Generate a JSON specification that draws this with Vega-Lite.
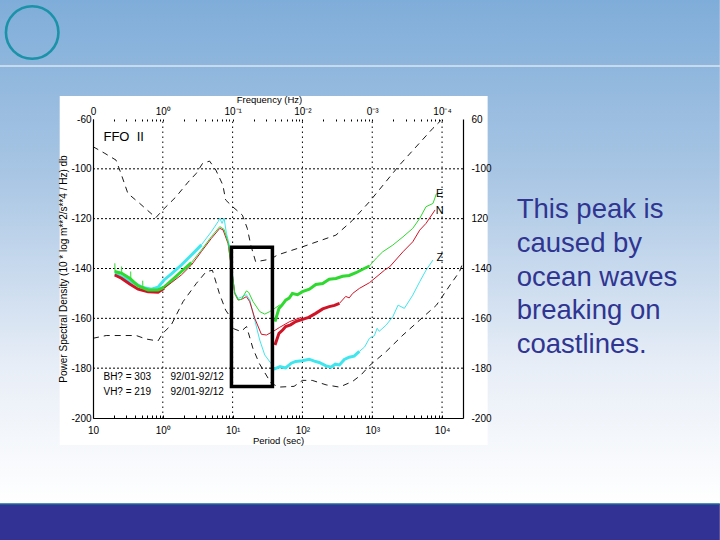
{
"$schema":"https://vega.github.io/schema/vega-lite/v6.json",
"width":370,"height":299,
"autosize":{"type":"none"},
"padding":{"left":93,"top":119,"right":257,"bottom":122},
"background":"#ffffff",
"config":{"view":{"stroke":null},"font":"Liberation Sans"},
"datasets":{
"curves":[
{"curve":"Z","part":"lf","u":-0.689,"db":-142},{"curve":"Z","part":"lf","u":-0.474,"db":-145},{"curve":"Z","part":"lf","u":-0.3,"db":-147.5},{"curve":"Z","part":"lf","u":-0.163,"db":-148.3},{"curve":"Z","part":"lf","u":-0.068,"db":-147.5},{"curve":"Z","part":"lf","u":0.018,"db":-144.6},{"curve":"Z","part":"lf","u":0.123,"db":-142.2},{"curve":"Z","part":"lf","u":0.266,"db":-138.6},{"curve":"Z","part":"lf","u":0.41,"db":-134.6},{"curve":"Z","part":"lf","u":0.553,"db":-130.5},
{"curve":"Z","part":"md","u":0.553,"db":-130.5},{"curve":"Z","part":"md","u":0.696,"db":-125.2},{"curve":"Z","part":"md","u":0.792,"db":-121.2},{"curve":"Z","part":"md","u":0.816,"db":-119.8},{"curve":"Z","part":"md","u":0.849,"db":-121.9},{"curve":"Z","part":"md","u":0.878,"db":-119.8},{"curve":"Z","part":"md","u":0.911,"db":-125.9},{"curve":"Z","part":"md","u":0.959,"db":-131.2},{"curve":"Z","part":"md","u":1.006,"db":-144},{"curve":"Z","part":"md","u":1.03,"db":-149.5},{"curve":"Z","part":"md","u":1.078,"db":-152},{"curve":"Z","part":"md","u":1.126,"db":-151.5},{"curve":"Z","part":"md","u":1.197,"db":-150.5},{"curve":"Z","part":"md","u":1.245,"db":-152.6},{"curve":"Z","part":"md","u":1.317,"db":-160.7},{"curve":"Z","part":"md","u":1.388,"db":-168.7},{"curve":"Z","part":"md","u":1.46,"db":-174.7},{"curve":"Z","part":"md","u":1.556,"db":-178.3},
{"curve":"Z","part":"rt","u":1.59,"db":-180.4},{"curve":"Z","part":"rt","u":1.68,"db":-179.4},{"curve":"Z","part":"rt","u":1.76,"db":-179.9},{"curve":"Z","part":"rt","u":1.84,"db":-178},{"curve":"Z","part":"rt","u":1.904,"db":-177.3},{"curve":"Z","part":"rt","u":2,"db":-177},{"curve":"Z","part":"rt","u":2.096,"db":-176.4},{"curve":"Z","part":"rt","u":2.17,"db":-177.2},{"curve":"Z","part":"rt","u":2.24,"db":-177.7},{"curve":"Z","part":"rt","u":2.33,"db":-179},{"curve":"Z","part":"rt","u":2.41,"db":-179.6},{"curve":"Z","part":"rt","u":2.47,"db":-178.4},{"curve":"Z","part":"rt","u":2.53,"db":-178.7},{"curve":"Z","part":"rt","u":2.6,"db":-176.5},{"curve":"Z","part":"rt","u":2.67,"db":-175.6},{"curve":"Z","part":"rt","u":2.74,"db":-175.2},{"curve":"Z","part":"rt","u":2.815,"db":-173.3},
{"curve":"Z","part":"hi","u":2.815,"db":-173.3},{"curve":"Z","part":"hi","u":2.89,"db":-171.5},{"curve":"Z","part":"hi","u":2.96,"db":-168},{"curve":"Z","part":"hi","u":3.03,"db":-167},{"curve":"Z","part":"hi","u":3.07,"db":-164},{"curve":"Z","part":"hi","u":3.1,"db":-165.2},{"curve":"Z","part":"hi","u":3.2,"db":-162.7},{"curve":"Z","part":"hi","u":3.295,"db":-159.3},{"curve":"Z","part":"hi","u":3.37,"db":-154.7},{"curve":"Z","part":"hi","u":3.46,"db":-156},{"curve":"Z","part":"hi","u":3.58,"db":-150.7},{"curve":"Z","part":"hi","u":3.68,"db":-145.3},{"curve":"Z","part":"hi","u":3.77,"db":-140.7},{"curve":"Z","part":"hi","u":3.87,"db":-136.6},
{"curve":"N","part":"lf","u":-0.689,"db":-142.6},{"curve":"N","part":"lf","u":-0.593,"db":-143.9},{"curve":"N","part":"lf","u":-0.474,"db":-146.2},{"curve":"N","part":"lf","u":-0.354,"db":-148.3},{"curve":"N","part":"lf","u":-0.21,"db":-149.3},{"curve":"N","part":"lf","u":-0.068,"db":-149.5},{"curve":"N","part":"lf","u":0.018,"db":-147.9},
{"curve":"N","part":"md","u":0.018,"db":-147.9},{"curve":"N","part":"md","u":0.123,"db":-145.7},{"curve":"N","part":"md","u":0.266,"db":-142.6},{"curve":"N","part":"md","u":0.41,"db":-138.6},{"curve":"N","part":"md","u":0.553,"db":-133.2},{"curve":"N","part":"md","u":0.696,"db":-127.9},{"curve":"N","part":"md","u":0.816,"db":-123.9},{"curve":"N","part":"md","u":0.863,"db":-124.5},{"curve":"N","part":"md","u":0.935,"db":-130},{"curve":"N","part":"md","u":0.95,"db":-133},{"curve":"N","part":"md","u":1.006,"db":-144.6},{"curve":"N","part":"md","u":1.03,"db":-150},{"curve":"N","part":"md","u":1.078,"db":-152.6},{"curve":"N","part":"md","u":1.126,"db":-152.4},{"curve":"N","part":"md","u":1.197,"db":-151.3},{"curve":"N","part":"md","u":1.245,"db":-153.3},{"curve":"N","part":"md","u":1.317,"db":-160},{"curve":"N","part":"md","u":1.412,"db":-166.4},{"curve":"N","part":"md","u":1.484,"db":-166.7},{"curve":"N","part":"md","u":1.579,"db":-165.3},{"curve":"N","part":"md","u":1.675,"db":-163.6},{"curve":"N","part":"md","u":1.818,"db":-161.3},{"curve":"N","part":"md","u":1.985,"db":-159.6},
{"curve":"N","part":"rt","u":1.607,"db":-170.7},{"curve":"N","part":"rt","u":1.664,"db":-166},{"curve":"N","part":"rt","u":1.72,"db":-164.6},{"curve":"N","part":"rt","u":1.76,"db":-163.3},{"curve":"N","part":"rt","u":1.83,"db":-162.6},{"curve":"N","part":"rt","u":1.904,"db":-161.3},{"curve":"N","part":"rt","u":2,"db":-160.4},{"curve":"N","part":"rt","u":2.09,"db":-159.6},{"curve":"N","part":"rt","u":2.19,"db":-158},{"curve":"N","part":"rt","u":2.29,"db":-156.2},{"curve":"N","part":"rt","u":2.384,"db":-155.3},{"curve":"N","part":"rt","u":2.46,"db":-154.8},{"curve":"N","part":"rt","u":2.53,"db":-154},
{"curve":"N","part":"hi","u":2.53,"db":-154},{"curve":"N","part":"hi","u":2.62,"db":-151.2},{"curve":"N","part":"hi","u":2.67,"db":-151.8},{"curve":"N","part":"hi","u":2.72,"db":-150},{"curve":"N","part":"hi","u":2.815,"db":-148},{"curve":"N","part":"hi","u":2.96,"db":-145.7},{"curve":"N","part":"hi","u":3.175,"db":-140.7},{"curve":"N","part":"hi","u":3.25,"db":-139.3},{"curve":"N","part":"hi","u":3.44,"db":-133.3},{"curve":"N","part":"hi","u":3.58,"db":-129.3},{"curve":"N","part":"hi","u":3.68,"db":-124.6},{"curve":"N","part":"hi","u":3.77,"db":-121.9},{"curve":"N","part":"hi","u":3.9,"db":-116.5},
{"curve":"E","part":"lf","u":-0.689,"db":-141.2},{"curve":"E","part":"lf","u":-0.593,"db":-141.9},{"curve":"E","part":"lf","u":-0.474,"db":-143.9},{"curve":"E","part":"lf","u":-0.354,"db":-147},{"curve":"E","part":"lf","u":-0.21,"db":-148.6},{"curve":"E","part":"lf","u":-0.068,"db":-148.6},{"curve":"E","part":"lf","u":0.018,"db":-147.5},{"curve":"E","part":"lf","u":0.123,"db":-144.9},{"curve":"E","part":"lf","u":0.266,"db":-141.2},{"curve":"E","part":"lf","u":0.41,"db":-137.6},
{"curve":"E","part":"s1","u":-0.687,"db":-137.9},{"curve":"E","part":"s1","u":-0.685,"db":-141.5},
{"curve":"E","part":"s2","u":-0.59,"db":-139.2},{"curve":"E","part":"s2","u":-0.588,"db":-142},
{"curve":"E","part":"s3","u":-0.46,"db":-141.2},{"curve":"E","part":"s3","u":-0.458,"db":-144},
{"curve":"E","part":"s4","u":-0.288,"db":-144.9},{"curve":"E","part":"s4","u":-0.286,"db":-147.5},
{"curve":"E","part":"md","u":0.41,"db":-137.6},{"curve":"E","part":"md","u":0.553,"db":-132.6},{"curve":"E","part":"md","u":0.696,"db":-127.2},{"curve":"E","part":"md","u":0.816,"db":-123.2},{"curve":"E","part":"md","u":0.878,"db":-124.3},{"curve":"E","part":"md","u":0.935,"db":-129.5},{"curve":"E","part":"md","u":0.95,"db":-132.6},{"curve":"E","part":"md","u":1.006,"db":-144.6},{"curve":"E","part":"md","u":1.03,"db":-150},{"curve":"E","part":"md","u":1.078,"db":-152.6},{"curve":"E","part":"md","u":1.126,"db":-152.4},{"curve":"E","part":"md","u":1.197,"db":-149},{"curve":"E","part":"md","u":1.231,"db":-149.6},{"curve":"E","part":"md","u":1.293,"db":-153.3},{"curve":"E","part":"md","u":1.389,"db":-157.3},{"curve":"E","part":"md","u":1.46,"db":-158.3},{"curve":"E","part":"md","u":1.532,"db":-157.3},{"curve":"E","part":"md","u":1.603,"db":-156},{"curve":"E","part":"md","u":1.675,"db":-154.6},
{"curve":"E","part":"rt","u":1.607,"db":-161.3},{"curve":"E","part":"rt","u":1.664,"db":-156},{"curve":"E","part":"rt","u":1.71,"db":-154.6},{"curve":"E","part":"rt","u":1.76,"db":-152.7},{"curve":"E","part":"rt","u":1.81,"db":-151.9},{"curve":"E","part":"rt","u":1.856,"db":-150},{"curve":"E","part":"rt","u":1.93,"db":-150.5},{"curve":"E","part":"rt","u":2,"db":-149.3},{"curve":"E","part":"rt","u":2.1,"db":-148.3},{"curve":"E","part":"rt","u":2.192,"db":-146.4},{"curve":"E","part":"rt","u":2.29,"db":-146},{"curve":"E","part":"rt","u":2.384,"db":-144.3},{"curve":"E","part":"rt","u":2.48,"db":-144},{"curve":"E","part":"rt","u":2.576,"db":-143.1},{"curve":"E","part":"rt","u":2.67,"db":-142.8},{"curve":"E","part":"rt","u":2.767,"db":-141.7},{"curve":"E","part":"rt","u":2.87,"db":-140.2},{"curve":"E","part":"rt","u":2.96,"db":-139},
{"curve":"E","part":"hi","u":2.96,"db":-139},{"curve":"E","part":"hi","u":3.06,"db":-135.8},{"curve":"E","part":"hi","u":3.15,"db":-133.3},{"curve":"E","part":"hi","u":3.295,"db":-130.6},{"curve":"E","part":"hi","u":3.44,"db":-127.3},{"curve":"E","part":"hi","u":3.58,"db":-123.9},{"curve":"E","part":"hi","u":3.68,"db":-119.9},{"curve":"E","part":"hi","u":3.77,"db":-115.2},{"curve":"E","part":"hi","u":3.87,"db":-113.9},{"curve":"E","part":"hi","u":3.92,"db":-109.9}
],
"model":[
{"model":"high","u":-1,"db":-91.1},{"model":"high","u":-0.83,"db":-93.8},{"model":"high","u":-0.67,"db":-96.5},{"model":"high","u":-0.6,"db":-101.8},{"model":"high","u":-0.5,"db":-109.9},{"model":"high","u":-0.33,"db":-113.9},{"model":"high","u":-0.1,"db":-119.6},{"model":"high","u":0,"db":-116.5},{"model":"high","u":0.19,"db":-111.2},{"model":"high","u":0.36,"db":-105.4},{"model":"high","u":0.48,"db":-101.8},{"model":"high","u":0.57,"db":-97.8},{"model":"high","u":0.67,"db":-96.9},{"model":"high","u":0.76,"db":-100.5},{"model":"high","u":0.86,"db":-106.5},{"model":"high","u":0.9,"db":-112.5},{"model":"high","u":1,"db":-115.2},{"model":"high","u":1.14,"db":-118.6},{"model":"high","u":1.21,"db":-123.9},{"model":"high","u":1.26,"db":-130.6},{"model":"high","u":1.33,"db":-137.3},{"model":"high","u":1.55,"db":-136.2},{"model":"high","u":1.64,"db":-134.6},{"model":"high","u":2,"db":-131.3},{"model":"high","u":2.48,"db":-126.6},{"model":"high","u":2.72,"db":-120.6},{"model":"high","u":2.96,"db":-113.2},{"model":"high","u":3.39,"db":-98.5},{"model":"high","u":3.87,"db":-83.7},{"model":"high","u":3.99,"db":-80.4},
{"model":"low","u":-1,"db":-168},{"model":"low","u":-0.81,"db":-166.9},{"model":"low","u":-0.38,"db":-166.9},{"model":"low","u":-0.24,"db":-168.3},{"model":"low","u":-0.07,"db":-169.1},{"model":"low","u":0,"db":-166},{"model":"low","u":0.12,"db":-162.7},{"model":"low","u":0.29,"db":-153.3},{"model":"low","u":0.48,"db":-146},{"model":"low","u":0.62,"db":-141.3},{"model":"low","u":0.71,"db":-140.7},{"model":"low","u":0.81,"db":-150},{"model":"low","u":0.9,"db":-156.7},{"model":"low","u":0.98,"db":-160},{"model":"low","u":1,"db":-164},{"model":"low","u":1.12,"db":-165.3},{"model":"low","u":1.2,"db":-163.3},{"model":"low","u":1.29,"db":-172},{"model":"low","u":1.38,"db":-178},{"model":"low","u":1.55,"db":-186},{"model":"low","u":1.66,"db":-187.6},{"model":"low","u":1.88,"db":-187.3},{"model":"low","u":2,"db":-184.9},{"model":"low","u":2.14,"db":-184.9},{"model":"low","u":2.34,"db":-186.7},{"model":"low","u":2.53,"db":-187.6},{"model":"low","u":2.72,"db":-185.3},{"model":"low","u":2.84,"db":-182.7},{"model":"low","u":2.96,"db":-179},{"model":"low","u":3.2,"db":-173.3},{"model":"low","u":3.44,"db":-166.7},{"model":"low","u":3.68,"db":-160.7},{"model":"low","u":3.92,"db":-154.7},{"model":"low","u":4.13,"db":-146},{"model":"low","u":4.25,"db":-141.3},{"model":"low","u":4.3,"db":-137.5}
]
},
"resolve":{"axis":{"x":"independent","y":"independent"}},
"encoding":{
"x":{"field":"u","type":"quantitative","scale":{"domain":[-1,4.3],"nice":false,"zero":false},"axis":null},
"y":{"field":"db","type":"quantitative","scale":{"domain":[-200,-80],"nice":false,"zero":false},"axis":null}
},
"layer":[
{"data":{"values":[{"u":-2.337,"u2":7.979,"db":-32.24,"db2":-234.5}]},
 "mark":{"type":"rect","fill":{"gradient":"linear","x1":0,"y1":0,"x2":0,"y2":1,"stops":[{"offset":0,"color":"#7fadd9"},{"offset":0.35,"color":"#a9c6e4"},{"offset":0.73,"color":"#e8eef7"},{"offset":1,"color":"#ffffff"}]}},
 "encoding":{"x2":{"field":"u2"},"y2":{"field":"db2"}}},
{"data":{"values":[{"u":-2.337,"u2":7.979,"db":-234.5,"db2":-248.96}]},
 "mark":{"type":"rect","fill":"#313294"},
 "encoding":{"x2":{"field":"u2"},"y2":{"field":"db2"}}},
{"data":{"values":[{"u":-2.337,"u2":7.979,"db":-234.5}]},
 "mark":{"type":"rule","stroke":"#1f6a96","strokeWidth":1.5},
 "encoding":{"x2":{"field":"u2"}}},
{"data":{"values":[{"u":-2.337,"u2":7.979,"db":-58.73}]},
 "mark":{"type":"rule","stroke":"#ffffff","strokeWidth":1},
 "encoding":{"x2":{"field":"u2"}}},
{"data":{"values":[{"u":-1.871,"db":-45.28}]},
 "mark":{"type":"point","shape":"circle","size":2756,"filled":false,"stroke":"#1a92a8","strokeWidth":2.6,"opacity":1}},
{"data":{"values":[{"u":-1.477,"u2":4.653,"db":-70.77,"db2":-210.83}]},
 "mark":{"type":"rect","fill":"#ffffff"},
 "encoding":{"x2":{"field":"u2"},"y2":{"field":"db2"}}},
{"data":{"values":[{"u":0,"db":-200,"db2":-80},{"u":1,"db":-200,"db2":-80},{"u":2,"db":-200,"db2":-80},{"u":3,"db":-200,"db2":-80},{"u":4,"db":-200,"db2":-80}]},
 "mark":{"type":"rule","stroke":"#000000","strokeWidth":1,"strokeDash":[1.5,3.5]},
 "encoding":{"y2":{"field":"db2"}}},
{"data":{"values":[{"u":-1,"u2":4.3,"db":-100},{"u":-1,"u2":4.3,"db":-120},{"u":-1,"u2":4.3,"db":-140},{"u":-1,"u2":4.3,"db":-160},{"u":-1,"u2":4.3,"db":-180}]},
 "mark":{"type":"rule","stroke":"#000000","strokeWidth":1,"strokeDash":[2,2]},
 "encoding":{"x2":{"field":"u2"}}},
{"data":{"name":"curves"},"transform":[{"filter":"datum.part=='lf'||datum.part=='rt'"}],
 "mark":{"type":"line","strokeWidth":3,"clip":false},
 "encoding":{"detail":{"field":"part"},"color":{"field":"curve","type":"nominal","legend":null,"scale":{"domain":["E","N","Z"],"range":["#2fd92f","#d01427","#3fe6ee"]}}}},
{"data":{"name":"curves"},"transform":[{"filter":"datum.part!='lf'&&datum.part!='rt'"}],
 "mark":{"type":"line","strokeWidth":1},
 "encoding":{"detail":{"field":"part"},"color":{"field":"curve","type":"nominal","legend":null,"scale":{"domain":["E","N","Z"],"range":["#55b855","#a82a35","#45cdd6"]}}}},
{"data":{"name":"model"},
 "mark":{"type":"line","stroke":"#000000","strokeWidth":0.9,"strokeDash":[6,5]},
 "encoding":{"detail":{"field":"model"}}},
{"data":{"values":[{"u":0.983,"u2":1.57,"db":-131.5,"db2":-187.4}]},
 "mark":{"type":"rect","fill":null,"stroke":"#000000","strokeWidth":3.5},
 "encoding":{"x2":{"field":"u2"},"y2":{"field":"db2"}}},
{"data":{"values":[{"u":-0.85,"db":-88.7,"label":"FFO\u00a0\u00a0II"}]},
 "mark":{"type":"text","align":"left","baseline":"alphabetic","fontSize":13,"color":"#000000"},
 "encoding":{"text":{"field":"label"}}},
{"data":{"values":[{"u":-0.85,"db":-184.6,"label":"BH? = 303"},{"u":0.11,"db":-184.6,"label":"92/01-92/12"},{"u":-0.85,"db":-190.6,"label":"VH? = 219"},{"u":0.11,"db":-190.6,"label":"92/01-92/12"}]},
 "mark":{"type":"text","align":"left","baseline":"alphabetic","fontSize":10,"color":"#000000"},
 "encoding":{"text":{"field":"label"}}},
{"data":{"values":[{"u":3.967,"db":-110.1,"label":"E"},{"u":3.967,"db":-116.9,"label":"N"},{"u":3.967,"db":-135.8,"label":"Z"}]},
 "mark":{"type":"text","align":"center","baseline":"middle","fontSize":11,"color":"#000000"},
 "encoding":{"text":{"field":"label"}}},
{"data":{"values":[{"u":5.07,"db":-119.7,"label":"This peak is"},{"u":5.07,"db":-133.4,"label":"caused by"},{"u":5.07,"db":-147,"label":"ocean waves"},{"u":5.07,"db":-160.3,"label":"breaking on"},{"u":5.07,"db":-173.9,"label":"coastlines."}]},
 "mark":{"type":"text","align":"left","baseline":"alphabetic","fontSize":27.5,"color":"#2f3591"},
 "encoding":{"text":{"field":"label"}}},
{"data":{"values":[{"u":-1,"db":-200}]},
 "mark":{"type":"point","opacity":0},
 "encoding":{
  "x":{"field":"u","type":"quantitative","scale":{"domain":[-1,4.3],"nice":false,"zero":false},
   "axis":{"orient":"bottom","zindex":1,"title":"Period (sec)","titleFont":"Liberation Sans","titleFontSize":9.5,"titleFontWeight":"normal","titleColor":"#000000","titlePadding":0,"grid":false,"domainColor":"#000000","domainWidth":1.2,"tickColor":"#000000","tickSize":-3,"labelPadding":10,"labelFontSize":10,"labelColor":"#000000","labelOverlap":false,"labelFlush":false,
    "values":[-1,-0.699,-0.523,-0.398,-0.301,-0.222,-0.155,-0.097,-0.046,0,0.301,0.477,0.602,0.699,0.778,0.845,0.903,0.954,1,1.301,1.477,1.602,1.699,1.778,1.845,1.903,1.954,2,2.301,2.477,2.602,2.699,2.778,2.845,2.903,2.954,3,3.301,3.477,3.602,3.699,3.778,3.845,3.903,3.954,4,4.301],
    "labelExpr":"datum.value==-1?'10':datum.value==0?'10⁰':datum.value==1?'10¹':datum.value==2?'10²':datum.value==3?'10³':datum.value==4?'10⁴':''"}},
  "y":{"field":"db","type":"quantitative","scale":{"domain":[-200,-80],"nice":false,"zero":false},
   "axis":{"orient":"left","zindex":1,"title":"Power Spectral Density (10 * log m**2/s**4 / Hz) db","titleFont":"Liberation Sans","titleFontSize":10,"titleFontWeight":"normal","titleColor":"#000000","titlePadding":2,"grid":false,"domainColor":"#000000","domainWidth":1.2,"ticks":false,"labelPadding":2,"labelFontSize":10,"labelColor":"#000000","values":[-200,-180,-160,-140,-120,-100,-80],
    "labelExpr":"datum.value==-80?'-60':datum.value"}}
 }},
{"data":{"values":[{"u":4.3,"db":-80}]},
 "mark":{"type":"point","opacity":0},
 "encoding":{
  "x":{"field":"u","type":"quantitative","scale":{"domain":[-1,4.3],"nice":false,"zero":false},
   "axis":{"orient":"top","zindex":1,"title":"Frequency (Hz)","titleFont":"Liberation Sans","titleFontSize":9.5,"titleFontWeight":"normal","titleColor":"#000000","titleX":176,"titleY":-17,"titleBaseline":"alphabetic","grid":false,"domain":false,"tickColor":"#000000","tickSize":-2,"labelPadding":5,"labelFontSize":10,"labelColor":"#000000","labelOverlap":false,"labelFlush":false,
    "values":[-1,-0.699,-0.523,-0.398,-0.301,-0.222,-0.155,-0.097,-0.046,0,0.301,0.477,0.602,0.699,0.778,0.845,0.903,0.954,1,1.301,1.477,1.602,1.699,1.778,1.845,1.903,1.954,2,2.301,2.477,2.602,2.699,2.778,2.845,2.903,2.954,3,3.301,3.477,3.602,3.699,3.778,3.845,3.903,3.954,4],
    "labelExpr":"datum.value==-1?'0':datum.value==0?'10⁰':datum.value==1?'10⁻¹':datum.value==2?'10⁻²':datum.value==3?'0⁻³':datum.value==4?'10⁻⁴':''"}},
  "y":{"field":"db","type":"quantitative","scale":{"domain":[-200,-80],"nice":false,"zero":false},
   "axis":{"orient":"right","zindex":1,"title":null,"grid":false,"domainColor":"#000000","domainWidth":1.2,"ticks":false,"labelPadding":8,"labelFontSize":10,"labelColor":"#000000","values":[-200,-180,-160,-140,-120,-100,-80],
    "labelExpr":"datum.value==-80?'60':datum.value==-120?'120':datum.value"}}
 }}
]
}
